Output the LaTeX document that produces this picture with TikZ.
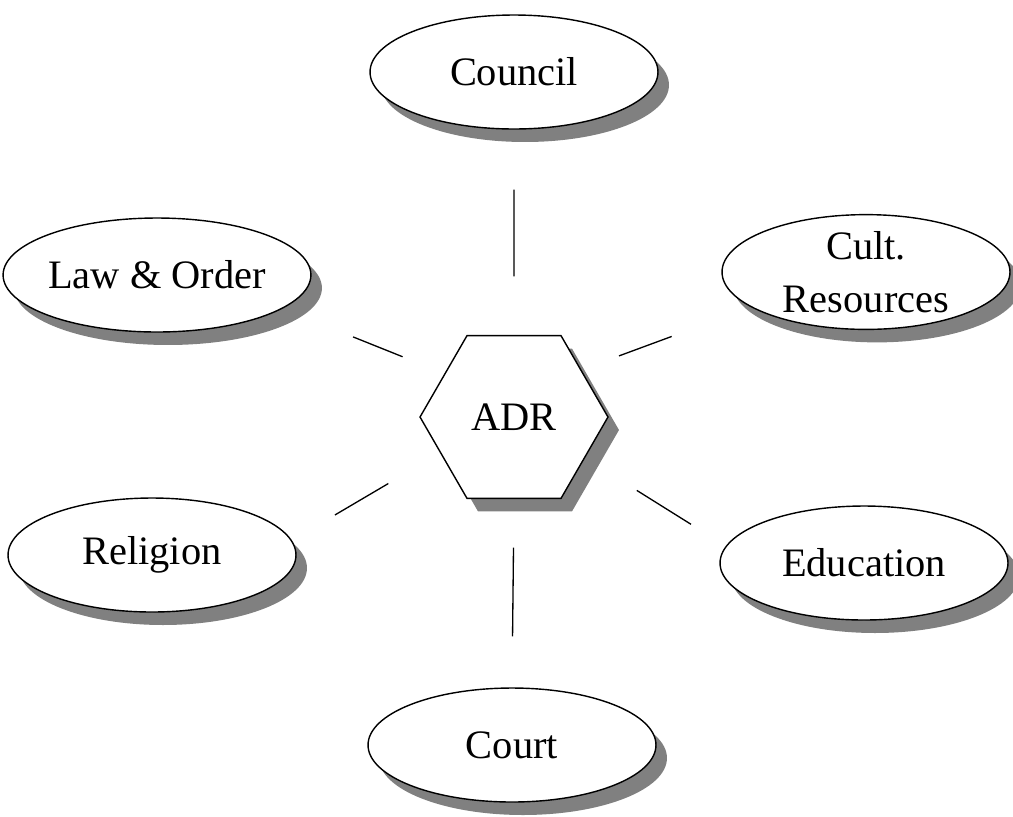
\documentclass[tikz,border=0pt]{standalone}
\usepackage{fontspec}
\setmainfont{Liberation Serif}
\usetikzlibrary{shapes.geometric, shadows}

\tikzset{
  area/.style={ellipse, draw=black, fill=white, line width=0.8pt,
    minimum width=5.76cm, minimum height=2.28cm, inner sep=0pt,
    align=center, font=\fontsize{23}{30}\selectfont,
    drop shadow={shadow xshift=0.22cm, shadow yshift=-0.26cm, fill=black!50, opacity=1}},
  hub/.style={regular polygon, regular polygon sides=6,
    draw=black, fill=white, line width=0.8pt, minimum size=3.76cm, inner sep=0pt,
    font=\fontsize{23}{30}\selectfont,
    drop shadow={shadow xshift=0.22cm, shadow yshift=-0.26cm, fill=black!50, opacity=1}},
  link/.style={black, line width=0.75pt}
}

\begin{document}
\begin{tikzpicture}[x=0.02cm, y=-0.02cm]

	\useasboundingbox (0, 0) rectangle (1013, 816);

	\node[hub] (adr) at (514, 417) {ADR};

	\node[area] (council) at (514, 72) {Council};
	\node[area] (law) at (157, 275) {Law \& Order};
	\node[area] (cult) at (866, 272) {Cult.\\Resources};
	\node[area] (rel) at (152, 555) {Religion};
	\node[area] (edu) at (864, 563) {Education};
	\node[area] (court) at (512, 745) {Court};

	\draw[link, shorten <=1.2cm, shorten >=1.17cm] (council.south) -- (adr.north);
	\draw[link, shorten <=0.97cm, shorten >=1.02cm] (adr.south) -- (court.north);
	\draw[link, shorten <=1.52cm, shorten >=0.9cm] (law.-15) -- (adr.148);
	\draw[link, shorten <=0.8cm, shorten >=1.69cm] (adr.35) -- (cult.197);
	\draw[link, shorten <=1.0cm, shorten >=1.2cm] (rel.6) -- (adr.206);
	\draw[link, shorten <=1.22cm, shorten >=0.82cm] (adr.-30) -- (edu.173);

\end{tikzpicture}
\end{document}
